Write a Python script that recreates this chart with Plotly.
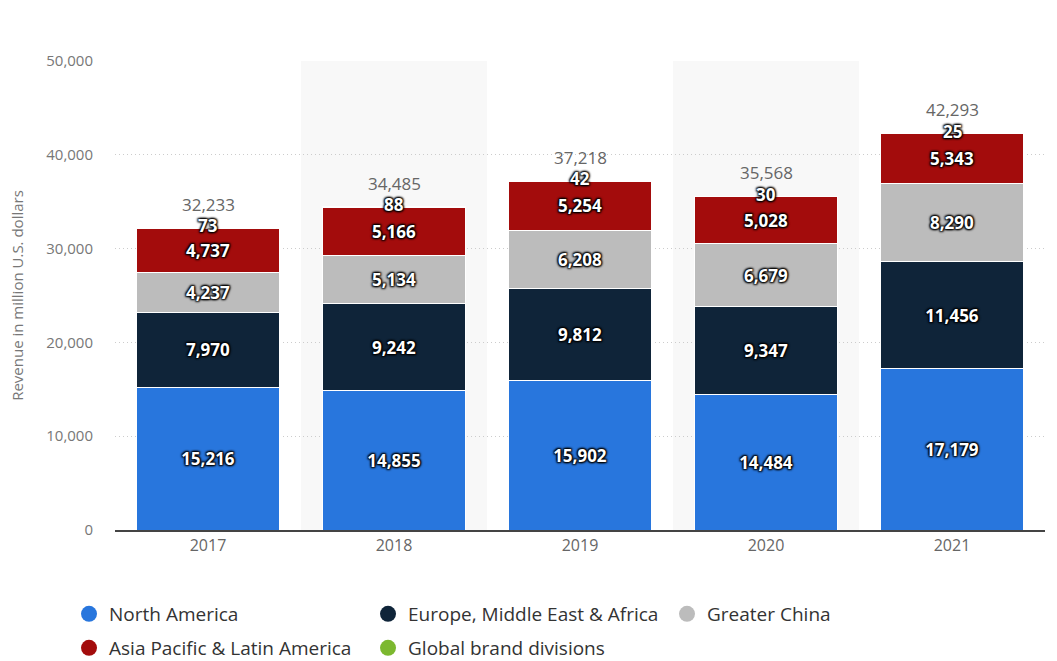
import plotly.graph_objects as go

years = ["2017", "2018", "2019", "2020", "2021"]
north_america = [15216, 14855, 15902, 14484, 17179]
emea = [7970, 9242, 9812, 9347, 11456]
greater_china = [4237, 5134, 6208, 6679, 8290]
asia_latam = [4737, 5166, 5254, 5028, 5343]
global_brand = [73, 88, 42, 30, 25]
totals = [32233, 34485, 37218, 35568, 42293]

series = [
    ("North America", north_america, "#2876dd"),
    ("Europe, Middle East & Africa", emea, "#0f2439"),
    ("Greater China", greater_china, "#bcbcbc"),
    ("Asia Pacific & Latin America", asia_latam, "#a30c0c"),
    ("Global brand divisions", global_brand, "#7cb82f"),
]
legend_rows = ["legend", "legend", "legend", "legend2", "legend2"]

FONT = "Open Sans, Lato, sans-serif"
label_font = dict(family=FONT, size=17, color="white", weight="bold",
                  shadow="1px 1px 2px #000, -1px -1px 2px #000, 1px -1px 2px #000, -1px 1px 2px #000")

fig = go.Figure()
for i, (name, vals, color) in enumerate(series):
    show_text = i < 4
    fig.add_trace(go.Bar(
        x=years, y=vals, name=name,
        marker=dict(color=color, line=dict(color="white", width=1)),
        text=[f"{v:,}" for v in vals] if show_text else None,
        texttemplate="%{text}" if show_text else None,
        textposition="inside" if show_text else "none",
        insidetextanchor="middle",
        textfont=label_font,
        constraintext="none",
        showlegend=False,
        hoverinfo="skip",
    ))

# legend markers as circles
for (name, vals, color), lg in zip(series, legend_rows):
    fig.add_trace(go.Scatter(
        x=[None], y=[None], mode="markers", name=name,
        marker=dict(color=color, size=18, symbol="circle"),
        showlegend=True, legend=lg,
    ))

# global brand labels at bar tops and totals above
for idx, (gb, tot) in enumerate(zip(global_brand, totals)):
    fig.add_annotation(x=idx, y=tot, xref="x", yref="y", text=f"{gb:,}", showarrow=False,
                       yanchor="middle", yshift=2, font=label_font)
    fig.add_annotation(x=idx, y=tot, xref="x", yref="y", text=f"{tot:,}", showarrow=False,
                       yanchor="bottom", yshift=10,
                       font=dict(family=FONT, size=17, color="#666666"))

# alternating background bands
for k in [1, 3]:
    fig.add_shape(type="rect", xref="x", yref="paper", x0=k - 0.5, x1=k + 0.5,
                  y0=0, y1=1, fillcolor="#f8f8f8", line_width=0, layer="below")

leg_common = dict(orientation="h", xref="container", yref="container",
                  x=0.0653, xanchor="left", yanchor="middle",
                  entrywidth=254, entrywidthmode="pixels", traceorder="normal",
                  font=dict(family=FONT, size=19, color="#333333"),
                  itemsizing="trace", bgcolor="rgba(0,0,0,0)")

fig.update_layout(
    barmode="stack",
    bargap=0.226,
    width=1057, height=661,
    margin=dict(l=115, r=12, t=61, b=131),
    plot_bgcolor="white", paper_bgcolor="white",
    font=dict(family=FONT, color="#666666"),
    showlegend=True,
    legend=dict(y=(661 - 614) / 661, **leg_common),
    legend2=dict(y=(661 - 648) / 661, **leg_common),
    xaxis=dict(type="category", tickfont=dict(size=16, color="#666666"),
               showgrid=False, showline=True, linecolor="#444444", linewidth=2,
               ticks="", range=[-0.5, 4.5]),
    yaxis=dict(range=[0, 50000], dtick=10000, tickformat=",",
               tickfont=dict(size=15, color="#777777"),
               showgrid=True, gridcolor="#cccccc", griddash="1px,3px", gridwidth=1,
               zeroline=False, ticklabelstandoff=21,
               title=dict(text="Revenue in million U.S. dollars",
                          font=dict(size=15, color="#777777"), standoff=18)),
)

fig.write_html("out.html")
